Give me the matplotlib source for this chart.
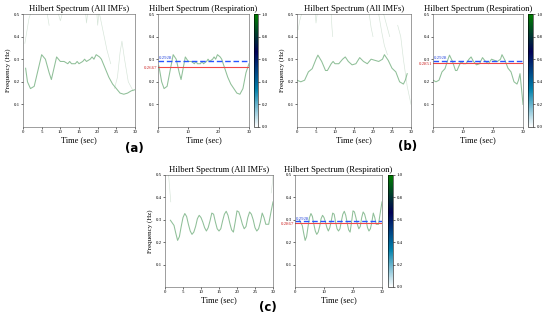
import numpy as np
import matplotlib
matplotlib.use('Agg')
import matplotlib.pyplot as plt
from matplotlib import cm, colors

plt.rcParams['font.family'] = ['Liberation Serif', 'DejaVu Serif']

# ---- dados ----
# (a) curva principal (All IMFs)
t_a = [0.7, 1.2, 2, 3, 4, 5, 6, 7, 7.6, 8.3, 9, 9.5, 10, 11, 12, 12.5, 13, 14, 14.5, 15,
       16, 16.5, 17, 18, 18.5, 19, 19.6, 20.5, 21, 22, 23, 24, 25, 26, 27, 28, 29, 30]
f_a = [0.26, 0.2, 0.17, 0.18, 0.25, 0.32, 0.30, 0.24, 0.21, 0.26, 0.31, 0.30, 0.29, 0.29, 0.28,
       0.29, 0.28, 0.28, 0.29, 0.28, 0.29, 0.30, 0.29, 0.30, 0.31, 0.30, 0.32, 0.31, 0.30, 0.26,
       0.22, 0.19, 0.17, 0.15, 0.145, 0.15, 0.16, 0.165]
# (a) curva da respiracao
t_a_resp = [0.3, 1.2, 2, 3, 4, 5, 6, 7, 7.6, 8.3, 9, 9.5, 10, 11, 12, 12.5, 13, 14, 14.5, 15,
            16, 16.5, 17, 18, 18.5, 19, 19.6, 20.5, 21, 22, 23, 24, 25, 26, 27, 28, 29, 30]
f_a_resp = [0.27, 0.2, 0.17, 0.18, 0.25, 0.32, 0.30, 0.24, 0.21, 0.26, 0.31, 0.30, 0.29, 0.29,
            0.28, 0.29, 0.28, 0.28, 0.29, 0.28, 0.29, 0.30, 0.29, 0.30, 0.31, 0.30, 0.32, 0.31,
            0.30, 0.26, 0.22, 0.19, 0.17, 0.15, 0.145, 0.17, 0.24, 0.28]
# (a) componentes fracos (All IMFs)
faint_a = [
    ([0.5, 1.0, 1.6, 2.0], [0.37, 0.42, 0.48, 0.5]),
    ([6.5, 6.8, 7.0], [0.5, 0.47, 0.45]),
    ([9.5, 10.0, 10.5], [0.5, 0.47, 0.5]),
    ([16.8, 17.0, 17.3], [0.5, 0.46, 0.5]),
    ([19.8, 20.0, 20.3], [0.5, 0.45, 0.5]),
    ([20.5, 21.5, 22.5, 23.5], [0.5, 0.42, 0.34, 0.28]),
    ([24.5, 25.3, 26.0, 26.5, 27.2, 28.2, 29.5], [0.17, 0.22, 0.33, 0.38, 0.3, 0.2, 0.16]),
]

# (b)
t_b = [0, 1, 2, 3, 4, 5, 5.5, 6.5, 7.5, 8, 9, 9.5, 10, 11, 12, 12.7, 13.5, 14.5, 15.5, 16.5,
       17.5, 18.5, 19.5, 20.5, 21.5, 22.5, 23, 24, 25, 26, 27, 28, 28.5, 29]
f_b = [0.207, 0.2, 0.207, 0.244, 0.258, 0.30, 0.318, 0.29, 0.25, 0.25, 0.28, 0.29, 0.28, 0.28,
       0.30, 0.31, 0.29, 0.275, 0.28, 0.307, 0.29, 0.28, 0.30, 0.295, 0.29, 0.30, 0.32, 0.295,
       0.26, 0.244, 0.2, 0.19, 0.207, 0.236]
t_b_resp = t_b + [29.5, 30]
f_b_resp = f_b + [0.17, 0.1]
faint_b = [
    ([0.3, 0.7, 1.2], [0.43, 0.47, 0.5]),
    ([4.8, 5.0, 5.3], [0.5, 0.46, 0.5]),
    ([9.0, 9.2, 9.4], [0.5, 0.44, 0.4]),
    ([19.0, 19.5, 20.0], [0.5, 0.44, 0.4]),
    ([21.5, 22.3, 23.0, 23.8], [0.5, 0.42, 0.36, 0.32]),
    ([22.8, 23.6, 24.4], [0.5, 0.45, 0.4]),
    ([26.5, 27.3, 28.0, 29.0, 30.0], [0.45, 0.4, 0.3, 0.18, 0.1]),
]

# (c)
t_c = [1.5, 2.5, 3, 3.5, 4, 4.5, 5, 5.5, 6, 6.5, 7, 7.5, 8, 8.5, 9, 9.5, 10, 10.5, 11, 11.5,
       12, 12.5, 13, 13.5, 14, 14.5, 15, 15.5, 16, 16.5, 17, 17.5, 18, 18.5, 19, 19.5, 20,
       20.5, 21, 21.5, 22, 22.5, 23, 23.5, 24, 24.5, 25, 25.5, 26, 26.5, 27, 27.5, 28, 28.8,
       29.5, 30]
f_c = [0.298, 0.275, 0.24, 0.208, 0.225, 0.27, 0.31, 0.328, 0.315, 0.28, 0.25, 0.235, 0.245,
       0.27, 0.305, 0.32, 0.31, 0.29, 0.265, 0.25, 0.265, 0.295, 0.33, 0.325, 0.29, 0.26,
       0.25, 0.26, 0.295, 0.325, 0.338, 0.32, 0.285, 0.255, 0.245, 0.29, 0.34, 0.335, 0.31,
       0.28, 0.26, 0.27, 0.31, 0.335, 0.325, 0.30, 0.265, 0.25, 0.26, 0.29, 0.33, 0.31, 0.28,
       0.28, 0.34, 0.38]
faint_c = [
    ([1.0, 1.3, 1.6], [0.5, 0.44, 0.38]),
    ([29.5, 29.8, 30.0], [0.42, 0.46, 0.5]),
]

# linhas de referencia (azul tracejada / vermelha)
blue_vals = [0.2928, 0.2928, 0.2928]
red_vals = [0.2667, 0.2851, 0.2867]

cmap = plt.get_cmap('ocean_r')
norm = colors.Normalize(0, 1)
curve_color = '#8fbf98'
faint_color = '#b8d2bd'


def estilo(ax, xticks, titulo):
    ax.set_xlim(0, 30)
    ax.set_ylim(0, 0.5)
    ax.set_xticks(xticks)
    ax.set_yticks([0.1, 0.2, 0.3, 0.4, 0.5])
    ax.set_title(titulo, fontsize=6.2, pad=2)
    ax.set_xlabel('Time (sec)', fontsize=6, labelpad=1)
    ax.tick_params(labelsize=3.5, length=1.5, width=0.4, pad=1)
    for s in ax.spines.values():
        s.set_linewidth(0.4)
        s.set_color('#555555')


def desenha_imfs(ax, t, f, faint):
    for ft, ff in faint:
        ax.plot(ft, ff, color=faint_color, lw=0.45, alpha=0.6)
    ax.plot(t, f, color=curve_color, lw=0.75)
    estilo(ax, range(0, 31, 5), 'Hilbert Spectrum (All IMFs)')
    ax.set_ylabel('Frequency (Hz)', fontsize=5, labelpad=2)


def desenha_resp(ax, cax, t, f, blue, red):
    ax.plot(t, f, color=curve_color, lw=0.75)
    ax.axhline(red, color='#f04848', lw=0.8)
    ax.axhline(blue, color='#2a55ff', ls=(0, (4, 2)), lw=1.0)
    ax.text(0.3, blue + 0.002, f'{blue:.4f}', color='#2244dd', fontsize=3.5, va='bottom', ha='left')
    ax.text(-0.3, red - 0.005, f'{red:.4f}', color='#cc2222', fontsize=3.5, va='center', ha='right')
    estilo(ax, [0, 10, 20, 30], 'Hilbert Spectrum (Respiration)')
    cb = plt.colorbar(cm.ScalarMappable(norm=norm, cmap=cmap), cax=cax)
    cb.set_ticks([0, 0.2, 0.4, 0.6, 0.8, 1.0])
    cb.ax.tick_params(labelsize=3.5, length=1.5, width=0.4, pad=1)
    cb.outline.set_linewidth(0.4)


fig = plt.figure(figsize=(5.5, 3.21), dpi=100)
W, H = 550.0, 321.0


def box(x0, x1, y0, y1):
    return [x0 / W, 1 - y1 / H, (x1 - x0) / W, (y1 - y0) / H]


# (a)
ax1 = fig.add_axes(box(23, 135, 14, 127))
ax2 = fig.add_axes(box(158, 249, 14, 127))
cx1 = fig.add_axes(box(254, 258, 14, 127))
desenha_imfs(ax1, t_a, f_a, faint_a)
desenha_resp(ax2, cx1, t_a_resp, f_a_resp, blue_vals[0], red_vals[0])

# (b)
ax3 = fig.add_axes(box(297, 411, 14, 127))
ax4 = fig.add_axes(box(433, 523, 14, 127))
cx2 = fig.add_axes(box(528, 533, 14, 127))
desenha_imfs(ax3, t_b, f_b, faint_b)
desenha_resp(ax4, cx2, t_b_resp, f_b_resp, blue_vals[1], red_vals[1])

# (c)
ax5 = fig.add_axes(box(165, 273, 175, 287))
ax6 = fig.add_axes(box(295, 382, 175, 287))
cx3 = fig.add_axes(box(388, 393, 175, 287))
desenha_imfs(ax5, t_c, f_c, faint_c)
desenha_resp(ax6, cx3, t_c, f_c, blue_vals[2], red_vals[2])

for lab, x, y in [('(a)', 134, 148), ('(b)', 408, 147), ('(c)', 268, 307)]:
    fig.text(x / W, 1 - y / H, lab, fontsize=8.5, fontweight='bold',
             family='DejaVu Sans', ha='center', va='center')

fig.savefig('out.png', dpi=100)
